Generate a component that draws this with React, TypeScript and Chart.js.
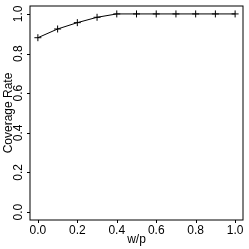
import React, { useEffect, useRef } from "react";
import { Chart, registerables } from "chart.js";

Chart.register(...registerables);

const xValues = [0, 0.1, 0.2, 0.3, 0.4, 0.5, 0.6, 0.7, 0.8, 0.9, 1.0];
const coverage = [0.88, 0.924, 0.956, 0.983, 1.0, 1.0, 1.0, 1.0, 1.0, 1.0, 1.0];
const xTicks = [0, 0.2, 0.4, 0.6, 0.8, 1.0];
const yTicks = [0, 0.2, 0.4, 0.6, 0.8, 1.0];
const xTitle = "w/p";
const yTitle = "Coverage Rate";

const FONT = "12px 'Liberation Sans', Arial, Helvetica, sans-serif";

const rAxesPlugin = {
  id: "rAxes",
  afterDraw(chart: any) {
    const ctx = chart.ctx;
    const area = chart.chartArea;
    const xs = chart.scales.x;
    const ys = chart.scales.y;
    ctx.save();
    ctx.strokeStyle = "#000";
    ctx.lineWidth = 1;
    // box
    ctx.strokeRect(area.left, area.top, area.right - area.left, area.bottom - area.top);
    // x ticks
    ctx.beginPath();
    xTicks.forEach((v) => {
      const px = Math.round(xs.getPixelForValue(v)) + 0.5;
      ctx.moveTo(px, area.bottom);
      ctx.lineTo(px, area.bottom + 3);
    });
    yTicks.forEach((v) => {
      const py = Math.round(ys.getPixelForValue(v)) + 0.5;
      ctx.moveTo(area.left, py);
      ctx.lineTo(area.left - 3, py);
    });
    ctx.stroke();
    ctx.fillStyle = "#000";
    ctx.font = FONT;
    ctx.textAlign = "center";
    ctx.textBaseline = "alphabetic";
    xTicks.forEach((v) => {
      ctx.fillText(v.toFixed(1), xs.getPixelForValue(v), area.bottom + 14);
    });
    ctx.fillText(xTitle, (area.left + area.right) / 2, area.bottom + 23);
    yTicks.forEach((v) => {
      ctx.save();
      ctx.translate(area.left - 8, ys.getPixelForValue(v));
      ctx.rotate(-Math.PI / 2);
      ctx.fillText(v.toFixed(1), 0, 0);
      ctx.restore();
    });
    ctx.save();
    ctx.translate(12, (area.top + area.bottom) / 2);
    ctx.rotate(-Math.PI / 2);
    ctx.fillText(yTitle, 0, 0);
    ctx.restore();
    ctx.restore();
  },
};

export default function App() {
  const ref = useRef<HTMLCanvasElement | null>(null);
  useEffect(() => {
    if (!ref.current) return;
    const chart = new Chart(ref.current, {
      type: "line",
      data: {
        datasets: [
          {
            data: xValues.map((x, i) => ({ x, y: coverage[i] })),
            borderColor: "#000",
            borderWidth: 1,
            pointStyle: "cross",
            pointRadius: 3.5,
            pointBorderColor: "#000",
            pointBorderWidth: 1,
            pointBackgroundColor: "#000",
            fill: false,
            tension: 0,
          },
        ],
      },
      options: {
        responsive: false,
        animation: false,
        layout: { padding: { left: 30, right: 6, top: 6, bottom: 29 } },
        plugins: { legend: { display: false }, tooltip: { enabled: false } },
        scales: {
          x: { type: "linear", min: -0.04, max: 1.04, display: false },
          y: { type: "linear", min: -0.04, max: 1.04, display: false },
        },
      },
      plugins: [rAxesPlugin],
    });
    return () => chart.destroy();
  }, []);
  return (
    <div style={{ position: "absolute", left: 0, top: 0, width: 249, height: 249, background: "#fff" }}>
      <canvas ref={ref} width={249} height={249} style={{ display: "block" }} />
    </div>
  );
}
